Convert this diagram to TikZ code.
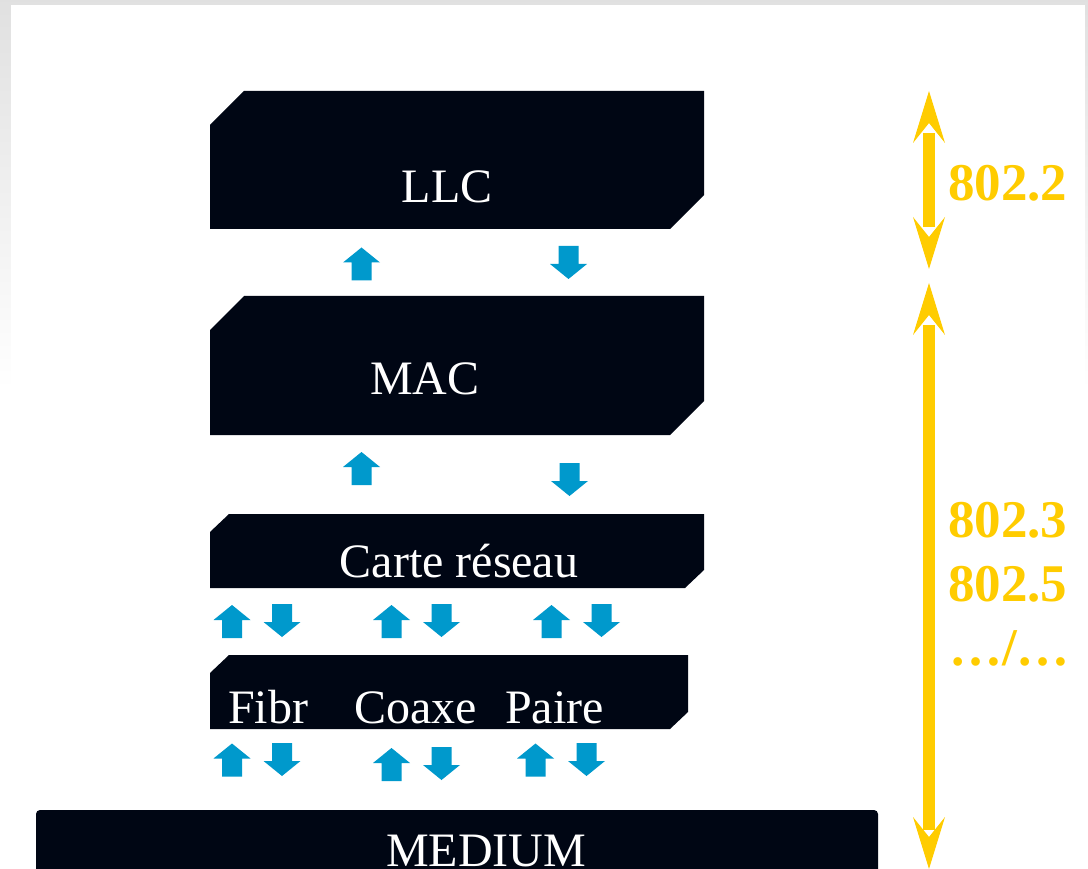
\documentclass[tikz,border=0pt]{standalone}
\usepackage{fontspec}
\setmainfont{Liberation Serif}
\definecolor{layerbg}{HTML}{000614}
\definecolor{flowblue}{HTML}{0099CC}
\definecolor{stdyellow}{HTML}{FFCC00}
\tikzset{layer/.style = {fill=layerbg}}
\tikzset{layertext/.style = {text=white, font=\fontsize{48}{50}\selectfont, inner sep=0pt}}
\tikzset{stdtext/.style = {text=stdyellow, font=\fontsize{53}{56}\selectfont\bfseries, inner sep=0pt, anchor=base west}}
\tikzset{flow/.style = {fill=flowblue}}
% small block arrows between the layers
\tikzset{flowup/.pic = {\fill[flow] (0,-16.5) -- (18.5,-1.5) -- (10,-1.5) -- (10,16.5) -- (-10,16.5) -- (-10,-1.5) -- (-18.5,-1.5) -- cycle;}}
\tikzset{flowdown/.pic = {\fill[flow] (0,16.5) -- (18.5,1.5) -- (10,1.5) -- (10,-16.5) -- (-10,-16.5) -- (-10,1.5) -- (-18.5,1.5) -- cycle;}}
% notched head of the yellow range arrows, tip at the origin
\tikzset{stdhead/.pic = {\fill[stdyellow] (0,0) -- (16,52) -- (0,32) -- (-16,52) -- cycle;}}

\begin{document}
\begin{tikzpicture}[x=1pt, y=-1pt]
  \useasboundingbox (0,0) rectangle (1088,869);
  \fill[top color=black!12, bottom color=white] (0,0) rectangle (1088,390);
  \fill[white] (11,5) rectangle (1085,869);

  % layers
  \fill[layer] (210,125) -- (244,91) -- (704,91) -- (704,195) -- (670,229) -- (210,229) -- cycle;
  \fill[layer] (210,330) -- (244,296) -- (704,296) -- (704,401) -- (670,435) -- (210,435) -- cycle;
  \fill[layer] (210,532) -- (229,514) -- (704,514) -- (704,570) -- (685,588) -- (210,588) -- cycle;
  \fill[layer] (210,673) -- (229,655) -- (688,655) -- (688,712) -- (670,729) -- (210,729) -- cycle;
  \fill[layer, rounded corners=4] (36,810) rectangle (878,880);

  \node[layertext, anchor=base] (llc) at (447,203) {LLC};
  \node[layertext, anchor=base] (mac) at (425,395) {MAC};
  \node[layertext, anchor=base] (carte) at (459,577) {Carte réseau};
  \node[layertext, anchor=base west] (fibr) at (228,723) {Fibr};
  \node[layertext, anchor=base west] (coaxe) at (354,723) {Coaxe};
  \node[layertext, anchor=base west] (paire) at (505,723) {Paire};
  \node[layertext, anchor=base] (medium) at (486,866) {MEDIUM};

  % flows
  \pic at (361.5,264) {flowup};
  \pic at (568.5,262.5) {flowdown};
  \pic at (361.5,468.5) {flowup};
  \pic at (569.5,479.5) {flowdown};
  \foreach \x in {232,391.5,551.5} {
    \pic at (\x,621.5) {flowup};
    \pic at (\x+50,620.5) {flowdown};
  }
  \pic at (232,760) {flowup};
  \pic at (282,759.5) {flowdown};
  \pic at (391.5,764.5) {flowup};
  \pic at (441.5,763.5) {flowdown};
  \pic at (535.5,760) {flowup};
  \pic at (586.5,759.5) {flowdown};

  % ranges of the standards
  \pic at (929,91) {stdhead};
  \fill[stdyellow] (923,133) rectangle (935,227);
  \pic[yscale=-1] at (929,269) {stdhead};
  \pic at (929,283) {stdhead};
  \fill[stdyellow] (923,325) rectangle (935,830);
  \pic[yscale=-1] at (929,869) {stdhead};

  \node[stdtext] (s22) at (948,201) {802.2};
  \node[stdtext] (s23) at (948,537) {802.3};
  \node[stdtext] (s25) at (948,601) {802.5};
  \node[stdtext] (sdots) at (949,665) {…/…};
\end{tikzpicture}
\end{document}
